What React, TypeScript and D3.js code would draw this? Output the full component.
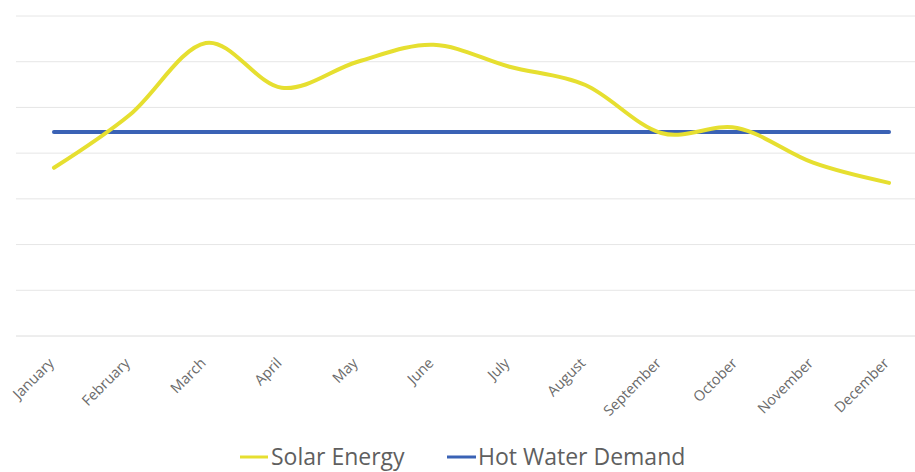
import React from "react";
import * as d3 from "d3";

const months = ["January","February","March","April","May","June","July","August","September","October","November","December"];
const solarEnergy = [3.68, 4.84, 6.41, 5.43, 6.0, 6.37, 5.89, 5.49, 4.44, 4.55, 3.79, 3.35];
const hotWaterDemand = [4.46, 4.46, 4.46, 4.46, 4.46, 4.46, 4.46, 4.46, 4.46, 4.46, 4.46, 4.46];
const gridTicks = [0, 1, 2, 3, 4, 5, 6, 7];
const seriesNames = ["Solar Energy", "Hot Water Demand"];

const W = 915, H = 472;
const FONT = "'Open Sans', 'Noto Sans', sans-serif";
const YELLOW = "#e6df30";
const BLUE = "#3a62b5";

export default function App() {
  const x = d3.scalePoint<string>().domain(months).range([16, 927]).padding(0.5);
  const y = d3.scaleLinear().domain([0, 7]).range([336, 16]);
  const line = d3.line<number>()
    .x((_, i) => x(months[i]) as number)
    .y((d) => y(d))
    .curve(d3.curveCardinal.tension(0));

  return (
    <svg width={W} height={H} style={{ position: "absolute", left: 0, top: 0, background: "#fff" }}>
      {gridTicks.map((t) => (
        <line key={t} x1={16} x2={W} y1={y(t)} y2={y(t)} stroke={t === 0 ? "#dcdcdc" : "#e6e6e6"} strokeWidth={1} />
      ))}
      <path d={line(hotWaterDemand) || ""} fill="none" stroke={BLUE} strokeWidth={4} strokeLinecap="round" />
      <path d={line(solarEnergy) || ""} fill="none" stroke={YELLOW} strokeWidth={4} strokeLinecap="round" />
      {months.map((m) => {
        const px = (x(m) as number) + 1;
        const py = 364;
        return (
          <text key={m} x={px} y={py} transform={`rotate(-45 ${px} ${py})`} textAnchor="end"
            fontFamily={FONT} fontSize={14.5} fill="#6b6b6b">{m}</text>
        );
      })}
      <g>
        <line x1={240} x2={268} y1={457} y2={457} stroke={YELLOW} strokeWidth={3} />
        <text x={271} y={465} fontFamily={FONT} fontSize={23} fill="#5f5f5f">{seriesNames[0]}</text>
        <line x1={447} x2={476} y1={457} y2={457} stroke={BLUE} strokeWidth={3} />
        <text x={478} y={465} fontFamily={FONT} fontSize={23} fill="#5f5f5f">{seriesNames[1]}</text>
      </g>
    </svg>
  );
}
